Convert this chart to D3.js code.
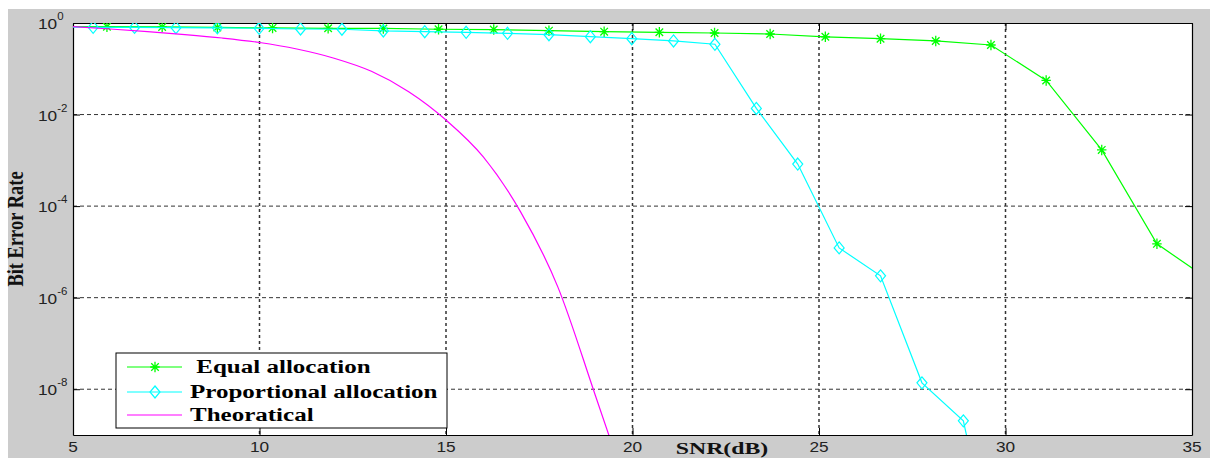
<!DOCTYPE html>
<html>
<head>
<meta charset="utf-8">
<script src="https://cdn.jsdelivr.net/npm/d3@7"></script>
<style>
  body { margin: 0; background: #fff; }
  svg { display: block; }
</style>
</head>
<body>
<svg id="viz"></svg>
<script>
// values (SNR in dB, bit error rate)
const eqSNR = [4.43, 5.91, 7.39, 8.87, 10.35, 11.84, 13.32, 14.80, 16.28, 17.76, 19.24,
  20.72, 22.20, 23.69, 25.17, 26.65, 28.13, 29.61, 31.09, 32.58, 34.06, 35.54];
const eqBER = [0.84, 0.83, 0.82, 0.80, 0.78, 0.766, 0.76, 0.73, 0.72, 0.68, 0.646,
  0.627, 0.605, 0.575, 0.50, 0.454, 0.405, 0.331, 0.0556, 0.00169, 1.5e-5, 2.2e-6];

const propSNR = [4.43, 5.54, 6.65, 7.76, 8.87, 9.99, 11.10, 12.21, 13.32, 14.43, 15.54, 16.65,
  17.76, 18.87, 19.98, 21.10, 22.21, 23.32, 24.43, 25.54, 26.65, 27.76, 28.87, 29.99];
const propBER = [0.81, 0.805, 0.80, 0.79, 0.785, 0.766, 0.74, 0.73, 0.67, 0.645, 0.627, 0.596,
  0.555, 0.502, 0.454, 0.405, 0.343, 0.0136, 8.3e-4, 1.22e-5, 3.0e-6, 1.38e-8, 2.04e-9, 1.4e-13];

const theoSNR = [5, 6, 7, 8, 9, 10, 11, 12, 13, 14, 15, 16, 17, 18, 19, 20];
const theoBER = [0.83, 0.74, 0.65, 0.56, 0.47, 0.375, 0.27, 0.17, 0.088, 0.0316, 0.0076,
  1.19e-3, 7.5e-5, 1.7e-6, 7.5e-9, 3e-11];

const xTicks = [5, 10, 15, 20, 25, 30, 35];
const yTicks = [1, 1e-2, 1e-4, 1e-6, 1e-8];
const yExps = ['0', '-2', '-4', '-6', '-8'];
const legendLabels = [' Equal allocation', 'Proportional allocation', 'Theoratical'];

const W = 1210, H = 458;
const plot = { left: 73, top: 23, right: 1192, bottom: 435 };

const svg = d3.select('#viz').attr('width', W).attr('height', H);

// figure background (matlab gray)
svg.append('rect').attr('width', W).attr('height', H).attr('fill', '#fff');
svg.append('rect').attr('x', 8).attr('y', 9).attr('width', W - 8).attr('height', H - 9)
  .attr('fill', '#cccccc');
svg.append('rect')
  .attr('x', plot.left).attr('y', plot.top)
  .attr('width', plot.right - plot.left).attr('height', plot.bottom - plot.top)
  .attr('fill', '#fff');

const x = d3.scaleLinear().domain([5, 35]).range([plot.left, plot.right]);
const y = d3.scaleLog().domain([1e-9, 1]).range([plot.bottom, plot.top]);

svg.append('clipPath').attr('id', 'clip')
  .append('rect')
  .attr('x', plot.left).attr('y', plot.top)
  .attr('width', plot.right - plot.left).attr('height', plot.bottom - plot.top);

// grid
svg.append('g').selectAll('line')
  .data(xTicks.slice(1, -1))
  .enter().append('line')
  .attr('x1', (d) => x(d)).attr('x2', (d) => x(d))
  .attr('y1', plot.top).attr('y2', plot.bottom)
  .attr('stroke', '#333').attr('stroke-width', 1.5)
  .attr('stroke-dasharray', '3,3');

svg.append('g').selectAll('line')
  .data(yTicks.slice(1))
  .enter().append('line')
  .attr('x1', plot.left).attr('x2', plot.right)
  .attr('y1', (d) => y(d)).attr('y2', (d) => y(d))
  .attr('stroke', '#333').attr('stroke-width', 1)
  .attr('stroke-dasharray', '4,3');

// box with inward ticks on all four sides
const tick = 7;
const axes = [
  [d3.axisBottom(x).tickValues(xTicks), plot.bottom, 'y'],
  [d3.axisTop(x).tickValues(xTicks), plot.top, 'y'],
  [d3.axisLeft(y).tickValues(yTicks), plot.left, 'x'],
  [d3.axisRight(y).tickValues(yTicks), plot.right, 'x']
];
axes.forEach(([ax, pos, dir]) => {
  const g = svg.append('g')
    .attr('transform', dir == 'y' ? 'translate(0,' + pos + ')' : 'translate(' + pos + ',0)')
    .call(ax.tickSizeInner(-tick).tickSizeOuter(0).tickFormat(''));
  g.select('.domain').attr('stroke', '#000').attr('stroke-width', 1.2);
  g.selectAll('.tick line').attr('stroke', '#000');
});

// series
const series = [
  { snr: eqSNR, ber: eqBER, color: '#00ff00', marker: 'star', curve: d3.curveLinear },
  { snr: propSNR, ber: propBER, color: '#00ffff', marker: 'diamond', curve: d3.curveLinear },
  { snr: theoSNR, ber: theoBER, color: '#ff00ff', marker: null, curve: d3.curveMonotoneX }
];

const asterisk = {
  draw(ctx, size) {
    const r = Math.sqrt(size) / 2;
    const d = r * 0.72;
    ctx.moveTo(-r * 0.9, 0); ctx.lineTo(r * 0.9, 0);
    ctx.moveTo(0, -r); ctx.lineTo(0, r);
    ctx.moveTo(-d, -d); ctx.lineTo(d, d);
    ctx.moveTo(-d, d); ctx.lineTo(d, -d);
  }
};
const diamond = {
  draw(ctx, size) {
    const r = Math.sqrt(size) / 2;
    ctx.moveTo(0, -r * 1.2);
    ctx.lineTo(r, 0);
    ctx.lineTo(0, r * 1.2);
    ctx.lineTo(-r, 0);
    ctx.closePath();
  }
};
const markerPath = (m) => d3.symbol().type(m == 'star' ? asterisk : diamond).size(m == 'star' ? 110 : 100)();

const plotG = svg.append('g').attr('clip-path', 'url(#clip)');

series.forEach((s) => {
  const pts = s.snr.map((v, i) => [v, s.ber[i]]);
  const lineGen = d3.line().curve(s.curve).x((d) => x(d[0])).y((d) => y(d[1]));
  plotG.append('path')
    .datum(pts)
    .attr('d', lineGen)
    .attr('fill', 'none')
    .attr('stroke', s.color)
    .attr('stroke-width', 1.2);
  if (s.marker) {
    plotG.selectAll('.m-' + s.marker)
      .data(pts)
      .enter().append('path')
      .attr('class', 'm-' + s.marker)
      .attr('transform', (d) => 'translate(' + x(d[0]) + ',' + y(d[1]) + ')')
      .attr('d', markerPath(s.marker))
      .attr('fill', 'none')
      .attr('stroke', s.color)
      .attr('stroke-width', s.marker == 'star' ? 1.3 : 1.2);
  }
});

// tick labels
svg.append('g').selectAll('text')
  .data(xTicks)
  .enter().append('text')
  .attr('transform', (d) => 'translate(' + x(d) + ',452) scale(1.15,1)')
  .attr('text-anchor', 'middle')
  .style('font-family', 'Liberation Sans, Arial, sans-serif')
  .style('font-size', '15px')
  .attr('fill', '#222')
  .text((d) => d);

const yLab = svg.append('g').selectAll('text')
  .data(yTicks)
  .enter().append('text')
  .attr('transform', (d) => 'translate(38,' + (y(d) + 6) + ') scale(1.15,1)')
  .style('font-family', 'Liberation Sans, Arial, sans-serif')
  .style('font-size', '15px')
  .attr('fill', '#222');
yLab.append('tspan').text('10');
yLab.append('tspan')
  .attr('dy', -9)
  .style('font-size', '10px')
  .text((d, i) => yExps[i]);

// axis titles
svg.append('text')
  .attr('transform', 'translate(722,454) scale(1.4,1)')
  .attr('text-anchor', 'middle')
  .style('font-family', 'Liberation Serif, Times New Roman, serif')
  .style('font-weight', 'bold')
  .style('font-size', '17px')
  .attr('fill', '#111')
  .text('SNR(dB)');

svg.append('text')
  .attr('transform', 'translate(23,229) rotate(-90) scale(1.12,1.35)')
  .attr('text-anchor', 'middle')
  .style('font-family', 'Liberation Serif, Times New Roman, serif')
  .style('font-weight', 'bold')
  .style('font-size', '16.5px')
  .attr('fill', '#111')
  .text('Bit Error Rate');

// legend
const legend = svg.append('g');
legend.append('rect')
  .attr('x', 116).attr('y', 353).attr('width', 331).attr('height', 75)
  .attr('fill', '#fff').attr('stroke', '#000').attr('stroke-width', 1);

const rowY = [367, 392, 415];
series.forEach((s, i) => {
  legend.append('line')
    .attr('x1', 127).attr('x2', 182)
    .attr('y1', rowY[i]).attr('y2', rowY[i])
    .attr('stroke', s.color).attr('stroke-width', 1.2);
  if (s.marker) {
    legend.append('path')
      .attr('transform', 'translate(155,' + rowY[i] + ')')
      .attr('d', markerPath(s.marker))
      .attr('fill', 'none')
      .attr('stroke', s.color)
      .attr('stroke-width', s.marker == 'star' ? 1.3 : 1.2);
  }
  legend.append('text')
    .attr('transform', 'translate(190,' + (rowY[i] + 6) + ') scale(1.39,1)')
    .style('font-family', 'Liberation Serif, Times New Roman, serif')
    .style('font-weight', 'bold')
    .style('font-size', '18px')
    .style('white-space', 'pre')
    .attr('fill', '#000')
    .text(legendLabels[i]);
});
</script>
</body>
</html>
